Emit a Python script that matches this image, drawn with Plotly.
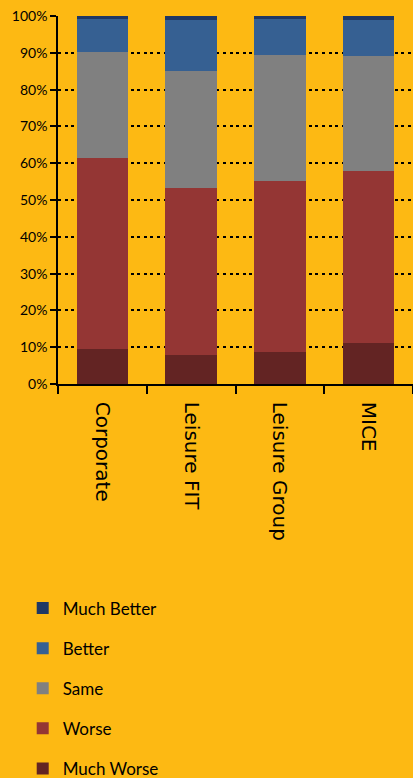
import plotly.graph_objects as go

categories = ["Corporate", "Leisure FIT", "Leisure Group", "MICE"]
much_worse = [9.6, 8.0, 8.8, 11.2]
worse = [51.9, 45.3, 46.4, 46.8]
same = [28.8, 31.8, 34.3, 31.2]
better = [9.0, 13.9, 9.8, 9.8]
much_better = [0.7, 1.0, 0.7, 1.0]

series = [
    ("Much Worse", much_worse, "#632423", 5),
    ("Worse", worse, "#943634", 4),
    ("Same", same, "#808080", 3),
    ("Better", better, "#366092", 2),
    ("Much Better", much_better, "#1F3864", 1),
]

BG = "#FDB913"

fig = go.Figure()
for name, vals, col, rank in series:
    fig.add_trace(go.Bar(
        x=categories, y=[v / 100 for v in vals], name=name,
        marker=dict(color=col, line=dict(width=0)),
        legendgroup=name, legendrank=rank,
    ))

fig.update_layout(
    width=413, height=778,
    barmode="stack", bargap=0.42,
    paper_bgcolor=BG, plot_bgcolor=BG,
    margin=dict(l=58, r=0, t=16, b=394, autoexpand=False),
    font=dict(family="Lato", color="#000000"),
    legend=dict(
        traceorder="grouped", tracegroupgap=15,
        xref="container", yref="container",
        x=0.055, y=0.241, xanchor="left", yanchor="top",
        font=dict(family="Lato", size=17, color="#000000"),
        bgcolor="rgba(0,0,0,0)",
    ),
    showlegend=True,
)
fig.update_yaxes(
    range=[0, 1], dtick=0.1, tickformat=".0%",
    showgrid=True, gridcolor="#000000", gridwidth=2, griddash="3px,3.6px",
    zeroline=False,
    showline=True, linecolor="#000000", linewidth=1.5,
    ticks="outside", ticklen=6, tickcolor="#000000", tickwidth=1.5,
    tickfont=dict(family="Lato", size=14, color="#000000"),
    fixedrange=True,
)
fig.update_xaxes(
    tickangle=90, tickson="boundaries", ticklabelstandoff=12,
    showline=True, linecolor="#000000", linewidth=1.5,
    ticks="outside", ticklen=8, tickcolor="#000000", tickwidth=1.5,
    tickfont=dict(family="DejaVu Sans", size=20, color="#000000"),
    showgrid=False, fixedrange=True,
)

fig.write_html(
    "out.html",
    config={"displayModeBar": False},
    post_script="document.body.style.margin='0';document.body.style.overflow='hidden';",
)
